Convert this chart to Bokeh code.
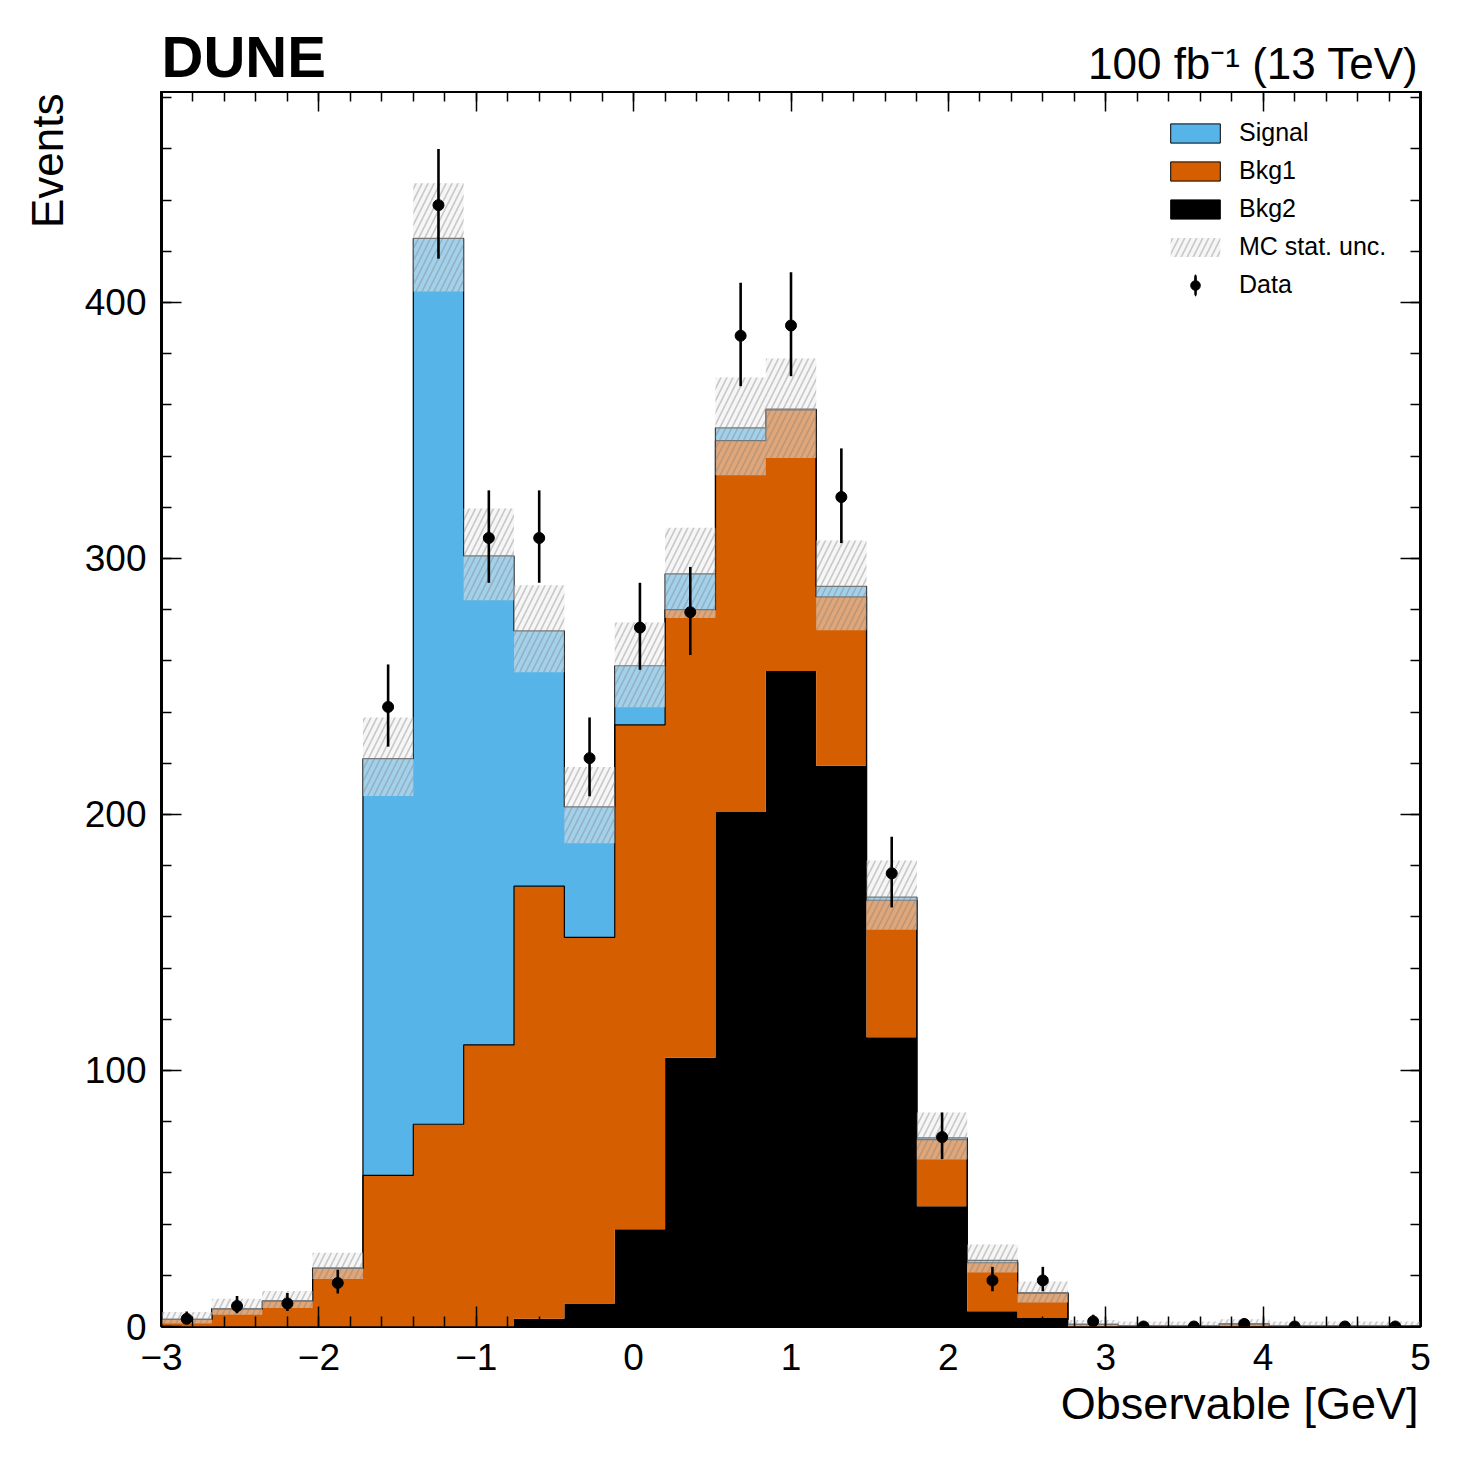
import numpy as np
from bokeh.plotting import figure
from bokeh.layouts import column, row
from bokeh.models import (Range1d, SingleIntervalTicker, LinearAxis, Label, Legend,
                          LegendItem, ColumnDataSource, CustomJSTickFormatter, Title)
from bokeh.embed import file_html
from bokeh.resources import INLINE

# ---------------- data ----------------
bin_edges = [-3.0, -2.68, -2.36, -2.04, -1.72, -1.4, -1.08, -0.76, -0.44, -0.12, 0.2,
             0.52, 0.84, 1.16, 1.48, 1.8, 2.12, 2.44, 2.76, 3.08, 3.4, 3.72, 4.04,
             4.36, 4.68, 5.0]
bkg2 = [0, 0, 0, 0, 0, 0, 0, 3, 9, 38, 105, 201, 256, 219, 113, 47, 6, 3.3,
        0, 0, 0, 0, 0, 0, 0]
bkg1 = [2.8, 6.9, 10.0, 22.8, 59, 79, 110, 169, 143, 197, 175, 145, 102, 66, 53.5,
        26, 18.9, 9.6, 0.8, 0.1, 0, 1.0, 0, 0.1, 0]
signal = [0, 0, 0, 0, 162.8, 346, 191, 99.7, 51, 23.1, 14, 5, 0.3, 4.1, 1.2,
          0.7, 0.9, 0.3, 0, 0, 0, 0, 0, 0, 0]
mc_unc_low = [1.2, 4.6, 7.2, 18.6, 207.2, 404.3, 283.7, 255.6, 188.8, 241.9, 276.7,
              332.5, 339.2, 272.0, 155.0, 65.2, 21.1, 9.4, 0.1, 0, 0, 0.3, 0, 0, 0]
mc_unc_high = [5.7, 10.8, 13.9, 28.8, 237.9, 446.6, 319.5, 289.5, 218.5, 275.0, 312.0,
               370.7, 378.1, 307.0, 182.0, 83.6, 32.0, 17.6, 2.5, 2.0, 2.0, 2.8, 2.0,
               2.0, 2.0]
data_counts = [3, 8, 9, 17, 242, 438, 308, 308, 222, 273, 279, 387, 391, 324, 177,
               74, 18, 18, 2, 0, 0, 1, 0, 0, 0]
data_err_low = [1.6, 2.8, 2.9, 4.1, 15.5, 20.9, 17.5, 17.5, 14.9, 16.5, 16.7, 19.7,
                19.8, 18.0, 13.3, 8.6, 4.2, 4.2, 1.3, 0, 0, 0.8, 0, 0, 0]
data_err_high = [2.9, 3.9, 4.1, 5.2, 16.6, 21.9, 18.6, 18.6, 15.9, 17.5, 17.7, 20.7,
                 20.8, 19.0, 14.3, 9.6, 5.3, 5.3, 2.6, 0, 0, 2.3, 0, 0, 0]

x_ticks = [-3, -2, -1, 0, 1, 2, 3, 4, 5]
x_tick_labels = ["−3", "−2", "−1", "0", "1", "2", "3", "4", "5"]
y_ticks = [0, 100, 200, 300, 400]
y_tick_labels = ["0", "100", "200", "300", "400"]
series_names = ["Signal", "Bkg1", "Bkg2", "MC stat. unc.", "Data"]
title_left = "DUNE"
title_right = "100 fb⁻¹ (13 TeV)"
x_title = "Observable [GeV]"
y_title = "Events"

# ---------------- styles / layout ----------------
FONT = "Liberation Sans"
BLUE = "#56B4E9"
ORANGE = "#D55E00"
BLACK = "#000000"
X_RANGE = (-3, 5)
Y_RANGE = (0, 482.4)

FRAME_W, FRAME_H = 1259, 1235
LEFT_STRIP = 80          # strip holding the y title
MAIN_LEFT = 81           # border of main plot for y tick labels
RIGHT_B = 30
TOP_H = 91               # strip holding the header texts
MAIN_BOTTOM = 120
MAIN_H = FRAME_H + MAIN_BOTTOM

edges = np.array(bin_edges)
centers = 0.5 * (edges[:-1] + edges[1:])
b2 = np.array(bkg2, dtype=float)
c1 = b2 + np.array(bkg1, dtype=float)
tot = c1 + np.array(signal, dtype=float)


def ext(a):
    a = list(a)
    return a + [a[-1]]


def text_strip(width, height, x_range, left=0, right=0):
    f = figure(frame_width=width, frame_height=height, x_range=x_range,
               y_range=Range1d(0, height), x_axis_type=None, y_axis_type=None,
               output_backend="svg", toolbar_location=None,
               min_border_left=left, min_border_right=right, min_border_top=0,
               min_border_bottom=0)
    f.outline_line_color = None
    f.background_fill_color = "white"
    f.border_fill_color = "white"
    return f


# ---------------- main plot ----------------
p = figure(frame_width=FRAME_W, frame_height=FRAME_H,
           x_range=Range1d(*X_RANGE), y_range=Range1d(*Y_RANGE),
           output_backend="svg", toolbar_location=None,
           min_border_left=MAIN_LEFT, min_border_top=0, min_border_right=RIGHT_B,
           min_border_bottom=MAIN_BOTTOM)
p.xgrid.visible = False
p.ygrid.visible = False
p.background_fill_color = "white"
p.border_fill_color = "white"
p.outline_line_color = "black"
p.outline_line_width = 3


def style_axis(ax, interval, labels):
    ax.ticker = SingleIntervalTicker(interval=interval, num_minor_ticks=5)
    ax.axis_line_color = None
    ax.major_tick_in = 20
    ax.major_tick_out = 0
    ax.minor_tick_in = 10
    ax.minor_tick_out = 0
    ax.major_tick_line_width = 1.5
    ax.minor_tick_line_width = 1.5
    ax.major_tick_line_color = "black"
    ax.minor_tick_line_color = "black"
    ax.major_label_text_font = FONT
    ax.major_label_text_font_size = "37px"
    ax.major_label_text_color = "black"
    if labels is None:
        ax.formatter = CustomJSTickFormatter(code="return ''")
        ax.major_label_standoff = 0
        ax.major_label_text_font_size = "0px"
    else:
        ax.major_label_overrides = labels


style_axis(p.xaxis[0], 1, dict(zip(x_ticks, x_tick_labels)))
p.xaxis[0].major_label_standoff = 17
style_axis(p.yaxis[0], 100, dict(zip(y_ticks, y_tick_labels)))
p.yaxis[0].major_label_standoff = 15
top_ax = LinearAxis()
style_axis(top_ax, 1, None)
p.add_layout(top_ax, "above")
right_ax = LinearAxis()
style_axis(right_ax, 100, None)
p.add_layout(right_ax, "right")

# x title, right-aligned under the tick labels
p.add_layout(Title(text=x_title, align="right", vertical_align="top", standoff=10,
                   offset=2, text_font=FONT, text_font_size="45px",
                   text_font_style="normal", text_color="black"), "below")

# stacked histogram
zeros = [0.0] * len(tot)
p.varea_step(x=edges, y1=ext(zeros), y2=ext(b2), step_mode="after", fill_color=BLACK)
p.varea_step(x=edges, y1=ext(b2), y2=ext(c1), step_mode="after", fill_color=ORANGE)
p.varea_step(x=edges, y1=ext(c1), y2=ext(tot), step_mode="after", fill_color=BLUE)
p.step(x=edges, y=ext(c1), mode="after", line_color="black", line_width=1.2)
p.step(x=edges, y=ext(tot), mode="after", line_color="black", line_width=1.2)

# MC stat. uncertainty band
r_unc = p.varea_step(x=edges, y1=ext(mc_unc_low), y2=ext(mc_unc_high),
                     step_mode="after", fill_color="#eeeeee", fill_alpha=0.5,
                     hatch_pattern="/", hatch_color="#808080", hatch_alpha=0.4,
                     hatch_scale=12, hatch_weight=1.6)

# data points with error bars
dsrc = ColumnDataSource(dict(x=centers, y=data_counts,
                             ylo=np.array(data_counts) - np.array(data_err_low),
                             yhi=np.array(data_counts) + np.array(data_err_high)))
p.segment(x0="x", y0="ylo", x1="x", y1="yhi", source=dsrc, line_color="black",
          line_width=2.6)
r_data = p.scatter(x="x", y="y", source=dsrc, size=11, marker="circle",
                   fill_color="black", line_color="black")

# legend proxies (nothing drawn in the plot area: coordinates are NaN)
nan1 = np.array([np.nan])


def box_proxy(color):
    return p.quad(left=nan1, right=nan1, top=nan1, bottom=nan1, fill_color=color,
                  line_color="black", line_width=1)


leg_sg = box_proxy(BLUE)
leg_b1 = box_proxy(ORANGE)
leg_b2 = box_proxy(BLACK)
leg_bar = p.ellipse(x=nan1, y=nan1, width=0.1, height=10, width_units="screen",
                    height_units="screen", fill_color="black", line_color="black",
                    line_width=2.6)

legend = Legend(items=[
    LegendItem(label=series_names[0], renderers=[leg_sg]),
    LegendItem(label=series_names[1], renderers=[leg_b1]),
    LegendItem(label=series_names[2], renderers=[leg_b2]),
    LegendItem(label=series_names[3], renderers=[r_unc]),
    LegendItem(label=series_names[4], renderers=[leg_bar, r_data]),
], location="top_right")
legend.glyph_width = 62
legend.glyph_height = 24
legend.label_height = 24
legend.label_width = 154
legend.label_standoff = 13
legend.spacing = 9
legend.padding = 0
legend.margin = 27
legend.border_line_color = None
legend.background_fill_alpha = 0
legend.label_text_font = FONT
legend.label_text_font_size = "25px"
legend.label_text_color = "black"
p.add_layout(legend)

# ---------------- text strips ----------------
top = text_strip(FRAME_W, TOP_H, p.x_range, left=LEFT_STRIP + MAIN_LEFT, right=RIGHT_B)
top.add_layout(Label(x=X_RANGE[0], y=35, text=title_left, text_font=FONT,
                     text_font_size="58px", text_font_style="bold",
                     text_align="left", text_baseline="alphabetic",
                     text_color="black"))
top.add_layout(Label(x=X_RANGE[1], y=28, x_offset=-2, text=title_right,
                     text_font=FONT, text_font_size="44px", text_align="right",
                     text_baseline="alphabetic", text_color="black"))

left = text_strip(LEFT_STRIP, MAIN_H, Range1d(0, LEFT_STRIP))
left.add_layout(Label(x=47, y=MAIN_H - 2, text=y_title, text_font=FONT,
                      text_font_size="44px", text_align="right",
                      text_baseline="alphabetic", angle=90, angle_units="deg",
                      text_color="black"))

layout = column(top, row(left, p, spacing=0), spacing=0)
open("out.html", "w").write(file_html(layout, INLINE))
